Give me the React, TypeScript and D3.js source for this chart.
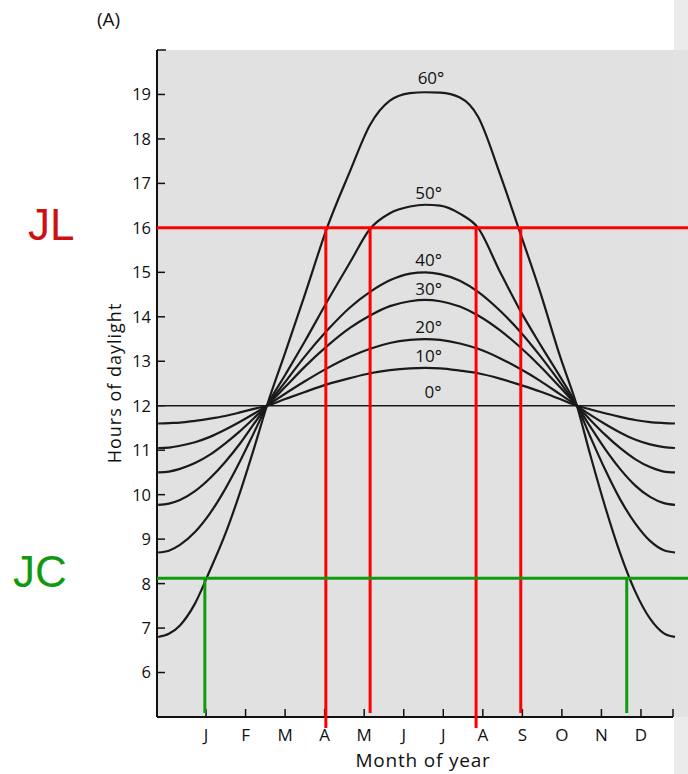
import React from 'react';
import * as d3 from 'd3';

// ---- data ----
const monthLabels = ['J', 'F', 'M', 'A', 'M', 'J', 'J', 'A', 'S', 'O', 'N', 'D'];
const monthTicks = [0, 1, 2, 3, 4, 5, 6, 7, 8, 9, 10, 11];
const hourTicks = [6, 7, 8, 9, 10, 11, 12, 13, 14, 15, 16, 17, 18, 19];

// sample positions along the year (month units, J tick = 0)
const monthPos = [-1.21, -0.94, -0.66, -0.28, 0.10, 0.48, 0.86, 1.21, 1.54, 2.00, 2.50, 3.06, 3.64, 4.15, 4.65, 5.16, 5.54, 5.92, 6.42, 6.88, 7.43, 7.94, 8.45, 8.95, 9.38, 9.71, 10.09, 10.47, 10.85, 11.23, 11.58, 11.86];

const lat0 = [12, 12, 12, 12, 12, 12, 12, 12, 12, 12, 12, 12, 12, 12, 12, 12, 12, 12, 12, 12, 12, 12, 12, 12, 12, 12, 12, 12, 12, 12, 12, 12];
const lat10 = [11.6, 11.61, 11.62, 11.66, 11.71, 11.77, 11.85, 11.93, 12.0, 12.15, 12.31, 12.48, 12.62, 12.73, 12.8, 12.84, 12.85, 12.84, 12.79, 12.73, 12.61, 12.47, 12.32, 12.15, 12.0, 11.92, 11.83, 11.75, 11.68, 11.63, 11.61, 11.6];
const lat20 = [11.05, 11.06, 11.1, 11.18, 11.3, 11.46, 11.64, 11.82, 12.0, 12.27, 12.55, 12.84, 13.1, 13.28, 13.41, 13.48, 13.5, 13.48, 13.4, 13.28, 13.07, 12.83, 12.56, 12.26, 12.0, 11.8, 11.59, 11.4, 11.24, 11.13, 11.07, 11.05];
const lat30 = [10.5, 10.52, 10.58, 10.71, 10.9, 11.15, 11.43, 11.72, 12.0, 12.42, 12.88, 13.34, 13.75, 14.03, 14.24, 14.35, 14.38, 14.35, 14.23, 14.03, 13.7, 13.32, 12.89, 12.42, 12.0, 11.69, 11.35, 11.05, 10.8, 10.62, 10.52, 10.5];
const lat40 = [9.77, 9.8, 9.88, 10.08, 10.37, 10.73, 11.15, 11.59, 12.0, 12.53, 13.11, 13.69, 14.21, 14.56, 14.82, 14.97, 15.0, 14.96, 14.81, 14.56, 14.14, 13.67, 13.12, 12.53, 12.0, 11.54, 11.03, 10.58, 10.21, 9.95, 9.81, 9.77];
const lat50 = [8.7, 8.74, 8.87, 9.16, 9.58, 10.12, 10.75, 11.39, 12.0, 12.69, 13.45, 14.34, 15.22, 15.98, 16.33, 16.48, 16.52, 16.5, 16.32, 16.0, 15.02, 14.15, 13.38, 12.66, 12.0, 11.32, 10.57, 9.9, 9.36, 8.96, 8.75, 8.7];
const lat60 = [6.8, 6.87, 7.06, 7.55, 8.3, 9.1, 10.05, 11.03, 12.0, 13.19, 14.5, 16.0, 17.27, 18.32, 18.86, 19.03, 19.05, 19.04, 18.93, 18.5, 17.22, 15.9, 14.56, 13.12, 12.0, 10.92, 9.74, 8.69, 7.83, 7.21, 6.88, 6.8];

const latNames = ['0°', '10°', '20°', '30°', '40°', '50°', '60°'];
const latSeries = [lat0, lat10, lat20, lat30, lat40, lat50, lat60];
// label anchor (month position, hours) of each latitude label baseline
const latLabelPos = [[5.74, 12.17], [5.63, 12.98], [5.63, 13.64], [5.63, 14.49], [5.63, 15.14], [5.63, 16.65], [5.69, 19.24]];

const jlHours = 16;
const jlMonths = [3.03, 4.15, 6.83, 7.96];
const jcHours = 8.12;
const jcMonths = [-0.03, 10.64];

export default function App() {
  const W = 688, H = 774;
  const x = d3.scaleLinear().domain([-1.24, 11.81]).range([157, 673]);
  const y = d3.scaleLinear().domain([5, 20]).range([717, 50]);
  const line = d3.line<number>()
    .x((_, i) => x(monthPos[i]))
    .y((d) => y(d))
    .curve(d3.curveMonotoneX);

  const font = '"Open Sans", "Noto Sans", sans-serif';
  const red = '#ff0000';
  const green = '#119a11';
  const redBottoms = [728, 713, 728, 713];
  const x0 = x(-1.24);

  return (
    <svg width={W} height={H} style={{ position: 'absolute', left: 0, top: 0, background: '#fff' }} fontFamily={font}>
      {/* plot background */}
      <rect x={x0} y={y(20)} width={W - x0} height={y(5) - y(20)} fill="#e1e1e1" />
      <rect x={674} y={0} width={14} height={H} fill="#e3e3e3" opacity={0.7} />

      <text x={97} y={26} fontSize={19} fill="#111">(A)</text>

      {/* axes */}
      <line x1={x0} x2={x0} y1={y(20)} y2={y(5)} stroke="#111" strokeWidth={2} />
      <line x1={x0} x2={673} y1={y(5)} y2={y(5)} stroke="#111" strokeWidth={2} />
      <line x1={x0} x2={x0 + 9} y1={y(20)} y2={y(20)} stroke="#111" strokeWidth={1.5} />
      {hourTicks.map((h) => (
        <g key={h}>
          <line x1={x0} x2={x0 + 8} y1={y(h)} y2={y(h)} stroke="#111" strokeWidth={1.5} />
          <text x={151} y={y(h)} dy="0.36em" textAnchor="end" fontSize={16.5} fill="#111">{h}</text>
        </g>
      ))}
      {monthTicks.map((m, i) => (
        <g key={i}>
          <line x1={x(m)} x2={x(m)} y1={y(5)} y2={y(5) - 8} stroke="#111" strokeWidth={1.5} />
          <text x={x(m)} y={741} textAnchor="middle" fontSize={17} fill="#111">{monthLabels[i]}</text>
        </g>
      ))}
      <line x1={673} x2={673} y1={y(5)} y2={y(5) - 8} stroke="#111" strokeWidth={1.5} />

      <text x={423} y={767} textAnchor="middle" fontSize={19} letterSpacing={0.8} fill="#111">Month of year</text>
      <text transform={`translate(121,383) rotate(-90)`} textAnchor="middle" fontSize={18} letterSpacing={1} fill="#111">Hours of daylight</text>

      {/* curves */}
      {latSeries.map((s, i) => (
        <path key={i} d={line(s) || ''} fill="none" stroke="#1a1a1a" strokeWidth={i === 0 ? 1.6 : 2.2} />
      ))}
      {latNames.map((n, i) => (
        <text key={n} x={x(latLabelPos[i][0])} y={y(latLabelPos[i][1])} textAnchor="middle" fontSize={17} fill="#111">{n}</text>
      ))}

      {/* JL annotation */}
      <line x1={x0} x2={W} y1={y(jlHours)} y2={y(jlHours)} stroke={red} strokeWidth={3} />
      {jlMonths.map((m, i) => (
        <line key={i} x1={x(m)} x2={x(m)} y1={y(jlHours)} y2={redBottoms[i]} stroke={red} strokeWidth={3} />
      ))}
      <text x={28} y={240} fontSize={44} fill="#cc1111" fontFamily='"Liberation Sans", Arial, sans-serif'>JL</text>

      {/* JC annotation */}
      <line x1={x0} x2={W} y1={y(jcHours)} y2={y(jcHours)} stroke={green} strokeWidth={3} />
      {jcMonths.map((m, i) => (
        <line key={i} x1={x(m)} x2={x(m)} y1={y(jcHours)} y2={713} stroke={green} strokeWidth={3} />
      ))}
      <text x={13} y={587} fontSize={44} fill={green} fontFamily='"Liberation Sans", Arial, sans-serif'>JC</text>
    </svg>
  );
}
